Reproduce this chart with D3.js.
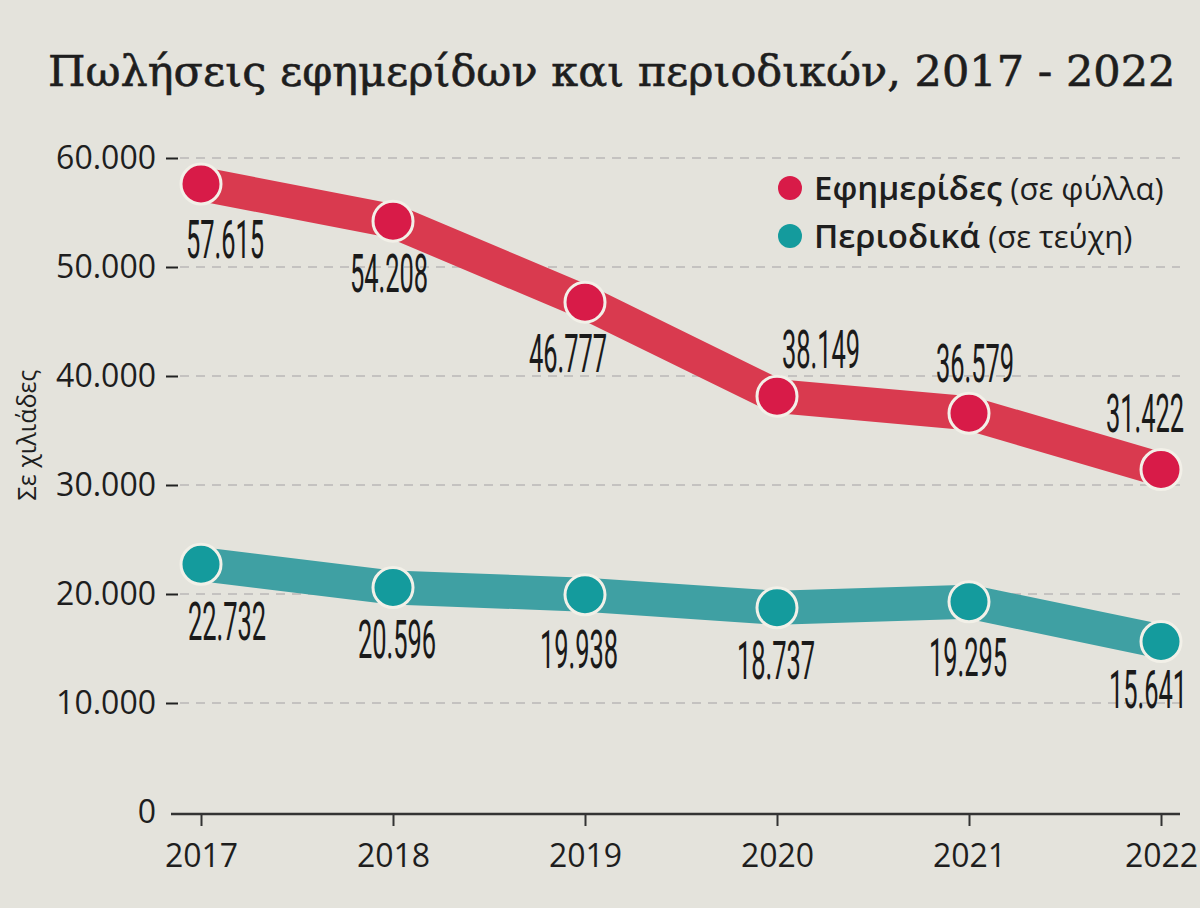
<!DOCTYPE html>
<html>
<head>
<meta charset="utf-8">
<script src="https://cdn.jsdelivr.net/npm/d3@7"></script>
<style>
  body { margin: 0; background: #e4e3dc; }
  svg { display: block; }
</style>
</head>
<body>
<div id="chart"></div>
<script>
// data
var years = [2017, 2018, 2019, 2020, 2021, 2022];
var efimerides = [57615, 54208, 46777, 38149, 36579, 31422];
var periodika = [22732, 20596, 19938, 18737, 19295, 15641];
var yTicks = [0, 10000, 20000, 30000, 40000, 50000, 60000];

// label offsets from each point (layout only)
var redOff = [[24, 74], [-4, 71], [-17, 70], [44, -28], [6, -31], [-16, -38]];
var tealOff = [[26, 76], [4, 70], [-6, 73], [-1, 71], [-1, 74], [-13, 66]];

var W = 1200, H = 908;
let svg = d3.select("#chart").append("svg")
    .attr("width", W)
    .attr("height", H);

svg.append("rect").attr("width", W).attr("height", H).attr("fill", "#e4e3dc");

var x = d3.scalePoint().domain(years).range([201, 1161]);
var y = d3.scaleLinear().domain([0, 60000]).range([812, 158]);

var fmt = d3.formatLocale({decimal: ",", thousands: ".", grouping: [3], currency: ["", "€"]}).format(",");

// title
let title = svg.append("text")
    .attr("x", 48).attr("y", 86)
    .attr("font-family", "DejaVu Serif")
    .attr("font-size", 44)
    .attr("fill", "#1e1e1e")
    .attr("stroke", "#1e1e1e")
    .attr("stroke-width", 0.6)
    .text("Πωλήσεις εφημερίδων και περιοδικών, 2017 - 2022");
// keep it inside 48..1178
var tw = title.node().getComputedTextLength();
if (tw > 1128) title.attr("font-size", 44 * 1128 / tw);

// grid
svg.append("g").selectAll("line")
    .data(yTicks.filter(d => d > 0))
    .join("line")
    .attr("x1", 180).attr("x2", 1180)
    .attr("y1", d => y(d)).attr("y2", d => y(d))
    .attr("stroke", "#b9b8b6")
    .attr("stroke-width", 1.5)
    .attr("stroke-dasharray", "9,7");

// y axis
let yAxis = svg.append("g")
    .attr("transform", "translate(178,0)")
    .call(d3.axisLeft(y).tickValues(yTicks).tickSize(12).tickPadding(10).tickFormat(d => fmt(d)));
yAxis.select(".domain").remove();
yAxis.selectAll(".tick line").attr("stroke", "#222").attr("stroke-width", 2);
yAxis.selectAll(".tick").filter(d => d === 0).select("line").remove();
yAxis.selectAll("text")
    .attr("font-family", "Open Sans")
    .attr("font-size", 32)
    .attr("fill", "#1e1e1e")
    .attr("dy", "0.34em");

// x axis
let xAxis = svg.append("g")
    .attr("transform", "translate(0,814)")
    .call(d3.axisBottom(x).tickSize(12).tickPadding(18).tickSizeOuter(0));
xAxis.select(".domain").attr("d", "M171,0H1180").attr("stroke", "#333").attr("stroke-width", 2.5);
xAxis.selectAll(".tick line").attr("stroke", "#333").attr("stroke-width", 2);
xAxis.selectAll("text")
    .attr("font-family", "Open Sans")
    .attr("font-size", 32)
    .attr("fill", "#1e1e1e");

// y title
svg.append("text")
    .attr("transform", "translate(36,435) rotate(-90)")
    .attr("text-anchor", "middle")
    .attr("font-family", "Open Sans")
    .attr("font-size", 25)
    .attr("fill", "#1e1e1e")
    .text("Σε χιλιάδες");

var series = [
    {vals: efimerides, line: "#d93a4f", dot: "#d81b48", off: redOff},
    {vals: periodika, line: "#3fa0a3", dot: "#149b9d", off: tealOff}
];

var line = d3.line()
    .x((d, i) => x(years[i]))
    .y(d => y(d));

series.forEach(function(s) {
    svg.append("path")
        .attr("d", line(s.vals))
        .attr("fill", "none")
        .attr("stroke", s.line)
        .attr("stroke-width", 34)
        .attr("stroke-linejoin", "round");
});

series.forEach(function(s) {
    svg.append("g").selectAll("circle")
        .data(s.vals)
        .join("circle")
        .attr("cx", (d, i) => x(years[i]))
        .attr("cy", d => y(d))
        .attr("r", 20)
        .attr("fill", s.dot)
        .attr("stroke", "#f2f0e8")
        .attr("stroke-width", 3);

    svg.append("g").selectAll("text")
        .data(s.vals)
        .join("text")
        .attr("transform", (d, i) => "translate(" + (x(years[i]) + s.off[i][0]) + "," + (y(d) + s.off[i][1]) + ") scale(0.48,1)")
        .attr("text-anchor", "middle")
        .attr("font-family", "Roboto")
        .attr("font-size", 53)
        .attr("fill", "#1a1a1a")
        .text(d => fmt(d));
});

// legend
var legend = [
    {name: "Εφημερίδες", unit: " (σε φύλλα)", color: "#d81b48"},
    {name: "Περιοδικά", unit: " (σε τεύχη)", color: "#149b9d"}
];
let lg = svg.append("g").selectAll("g")
    .data(legend)
    .join("g")
    .attr("transform", (d, i) => "translate(790," + (188 + i * 48) + ")");
lg.append("circle").attr("r", 12).attr("fill", d => d.color);
let lt = lg.append("text")
    .attr("x", 24).attr("y", 12)
    .attr("font-family", "Open Sans")
    .attr("font-size", 33)
    .attr("fill", "#1e1e1e");
lt.append("tspan").attr("font-weight", 600).text(d => d.name);
lt.append("tspan").attr("font-weight", 400).attr("font-size", 31).text(d => d.unit);
</script>
</body>
</html>
